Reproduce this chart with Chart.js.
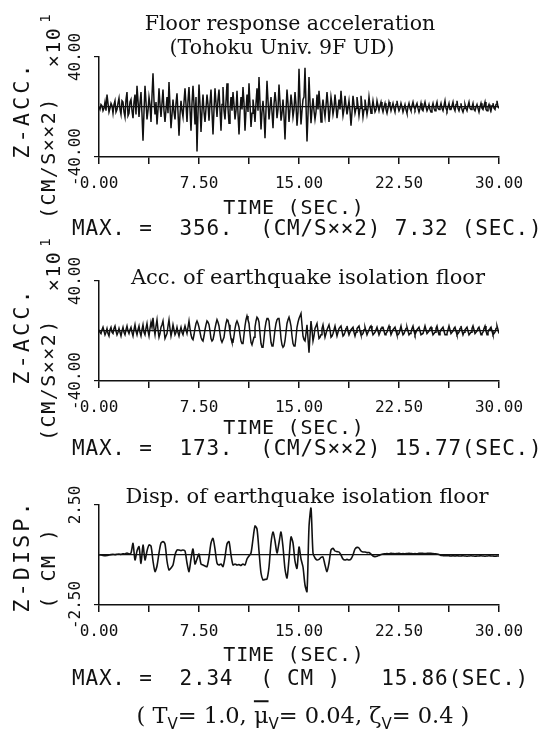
<!DOCTYPE html>
<html>
<head>
<meta charset="utf-8">
<script src="https://cdn.jsdelivr.net/npm/chart.js@4.4.1/dist/chart.umd.min.js"></script>
<style>
  body { margin: 0; background: #fff; width: 553px; height: 742px; position: relative; overflow: hidden; }
  canvas { position: absolute; left: 0; }
  .t { position: absolute; white-space: pre; color: #111; line-height: 1; }
  .serif { font-family: "DejaVu Serif", serif; font-size: 20.5px; transform: translate(-50%, -50%); }
  .serif.wide { font-size: 21px; }
  .mono { font-family: "DejaVu Sans Mono", monospace; }
  .rot { transform: translate(-50%, -50%) rotate(-90deg); }
  .big { font-size: 22px; letter-spacing: 3px; }
  .unit { font-size: 20px; letter-spacing: 1.5px; }
  .max { font-size: 21px; letter-spacing: 0.8px; transform: translateY(-50%); }
  .time { font-size: 20px; letter-spacing: 0.8px; transform: translate(-50%, -50%); }
  .sup { font-size: 14px; position: relative; top: -10px; margin-left: 4px; }
  .foot { font-family: "DejaVu Serif", serif; font-size: 22.5px; transform: translate(-50%, -50%); }
  .foot sub { font-family: "DejaVu Sans", sans-serif; font-size: 15px; }
  .ov { text-decoration: overline; }
</style>
</head>
<body>
<canvas id="c1" width="553" height="165" style="top:32px"></canvas>
<canvas id="c2" width="553" height="165" style="top:256px"></canvas>
<canvas id="c3" width="553" height="165" style="top:480px"></canvas>

<div class="t serif" style="left:290px; top:23px">Floor response acceleration</div>
<div class="t serif" style="left:282px; top:47px">(Tohoku Univ. 9F UD)</div>
<div class="t mono rot big" style="left:22px; top:110px">Z-ACC.</div>
<div class="t mono rot unit" style="left:48px; top:158px">(CM/S××2)</div>
<div class="t mono rot unit" style="left:53px; top:40px">×10<span class="sup">1</span></div>
<div class="t mono time" style="left:294px; top:207px">TIME (SEC.)</div>
<div class="t mono max" style="left:72px; top:228px">MAX. =  356.  (CM/S××2) 7.32 (SEC.)</div>

<div class="t serif wide" style="left:308px; top:277px">Acc. of earthquake isolation floor</div>
<div class="t mono rot big" style="left:22px; top:336px">Z-ACC.</div>
<div class="t mono rot unit" style="left:48px; top:380px">(CM/S××2)</div>
<div class="t mono rot unit" style="left:53px; top:264px">×10<span class="sup">1</span></div>
<div class="t mono time" style="left:294px; top:427px">TIME (SEC.)</div>
<div class="t mono max" style="left:72px; top:448px">MAX. =  173.  (CM/S××2) 15.77(SEC.)</div>

<div class="t serif wide" style="left:307px; top:496px">Disp. of earthquake isolation floor</div>
<div class="t mono rot big" style="left:22px; top:556px">Z-DISP.</div>
<div class="t mono rot unit" style="left:48px; top:568px">( CM )</div>
<div class="t mono time" style="left:294px; top:654px">TIME (SEC.)</div>
<div class="t mono max" style="left:72px; top:678px">MAX. =  2.34  ( CM )   15.86(SEC.)</div>

<div class="t foot" style="left:303px; top:718px">( T<sub>V</sub>= 1.0, <span class="ov">μ</span><sub>V</sub>= 0.04, ζ<sub>V</sub>= 0.4 )</div>

<script>
// accelerations read every 0.075 s, displacement every 0.15 s, 0 .. 30 s
const accStep = 0.075;
const dispStep = 0.15;

// floor response acceleration, x10 cm/s2
const floorAcc = [
  0, -2, 2, 1, -3, -1, 4, -3, 10, 3, -4, -1, 3, 1, -5, 2, 5, -4, -2, 3,
  7, -2, -6, 5, 4, -4, -8, 6, 12, -7, -5, 4, 6, -3, -9, 4, 10, -6, 17, 5,
  -8, 3, 12, -6, -27, -4, 17, 4, -10, -3, 8, 2, -12, 9, 27, 5, -6, 4, -14, -2,
  15, 2, -8, 3, 14, -3, -12, -2, 8, -5, 20, 1, -17, -6, 6, -4, -10, 3, 11, -4,
  -23, -6, 5, -3, -8, 4, 15, 2, -12, 5, 16, -2, -19, 3, 17, 2, -14, 8, -35.6, -5,
  18, 2, -20, -3, 10, -4, -12, -1, 10, 2, -11, 3, 14, -4, -22, -2, 15, 3, -8, 6,
  14, -2, -19, 2, 16, -3, -10, 4, 19, -1, -13, -2, 8, -3, 12, 2, -10, -3, 13, -5,
  -22, -4, 8, -2, 16, 3, -19, -3, 10, -4, 19, 2, -16, -5, 6, -2, -12, 3, 15, -3,
  24, 3, -18, -4, 5, -6, -25, -2, 21, 5, -10, -1, 8, -4, -17, 2, 12, 4, -9, -2,
  18, 4, -11, -5, 6, -7, -26, -3, 14, 3, -12, -2, 10, 2, -8, -2, 12, 2, -15, -4,
  30.5, 5, -14, -3, 6, 8, 31.4, 2, -27.6, -6, 24, 4, -13, -2, 7, -3, -10, -4, 10, -2,
  13, 1, -12, -2, 6, -2, -8, 1, 12, 2, -12, -3, 8, 2, -6, -1, 10, 1, -9, -2,
  6, -2, 13, 2, -7, -2, 9, 1, -6, -1, 5, -3, -15, -4, 9, 2, -5, -1, 8, 1,
  -7, -1, 9, 1, -8, -2, 6, 0, -6, -1, 8, 1, -5, -1, 5, 0, -4, -2, 5, 1,
  -3, 1, 4, -1, -4, 0, 3, -2, -5, -1, 4, 1, -3, 0, 3, -1, -4, 2, 5, 0,
  -3, -1, 3, 0, -4, -1, 2, -2, -5, 0, 3, -1, -3, 1, 4, 0, -2, 1, 3, -1,
  -4, -1, 3, -2, -3, 1, 4, 0, -3, -1, 2, -2, -4, 0, 3, -1, -3, 1, 4, -1,
  -2, 0, 3, -1, -3, 1, 5, -1, -3, 0, 3, -2, -2, 1, 4, -1, -3, 2, 5, -1,
  -3, 0, 3, -2, -4, -1, 2, -1, -3, 1, 4, -1, -2, 0, 3, -2, -3, 0, 2, -1,
  -4, 0, 3, -1, -2, 1, 4, -2, -3, 0, 2, -1, -3, 1, 3, -1, -2, 2, 5, 0,
  -1
];

// isolation floor acceleration, x10 cm/s2
const isoAcc = [
  1, -1, -2, 1, 3, 0, -3, -1, 2, -2, -4, 1, 3, -1, -2, 2, 4, 0, -3, -1,
  2, -1, -4, 0, 3, -1, -3, 1, 4, 0, -2, 1, 3, -1, -4, 1, 5, 0, -3, 1,
  4, -1, -4, 1, 5, -1, -3, 2, 6, 0, -4, 2, 7, 3, 10.5, 2, -3, 4, 9, 1,
  -5, -2, 3, 5, 8, 1, -6, -4, -2, 4, 9, 2, -4, 0, 5, 1, -3, -1, 3, -1,
  -4, 0, 3, -1, -3, 1, 4, 1, -2, 3, 8, 2, -3, -6, -7, -3, 2, 6, 8, 6,
  3, -1, -5, -7, -8, -4, 1, 5, 8, 7, 5, 0, -6, -8, -7, -3, 2, 6, 9, 7,
  4, -2, -7, -9, -9, -5, 1, 6, 9, 8, 5, -1, -6, -9, -9, -4, 2, 6, 8, 6,
  3, -3, -8, -10, -10, -3, 4, 9, 12, 9, 6, -2, -9, -11, -11, -5, 3, 8, 11, 10,
  7, -2, -10, -13, -13, -6, 2, 7, 10, 10, 8, -1, -9, -12, -12, -6, 1, 6, 9, 10,
  10, 3, -6, -11, -13, -12, -8, -1, 6, 9, 11, 8, 4, -4, -10, -12, -12, -5, 3, 7,
  10, 12, 14, 5, -4, -7, -8, -2, 5, -6, -17.3, -4, 8, 1, -8, -4, 2, 4, 6, 0,
  -6, -5, -3, 2, 5, 0, -5, -2, 1, 3, 5, 1, -5, -4, -2, 1, 4, 0, -4, -1,
  2, 3, 4, 0, -4, -3, -1, 2, 4, 0, -3, -1, 1, 2, 3, -1, -4, -1, 2, 3,
  4, 0, -3, -3, -2, 1, 3, 0, -3, -1, 1, 3, 4, 0, -3, -2, -1, 1, 3, 0,
  -3, -1, 2, 3, 3, 0, -3, -2, -1, 2, 4, 1, -3, -1, 1, 2, 3, 0, -3, -3,
  -2, 1, 4, 0, -3, -2, 0, 2, 3, 0, -3, -2, -1, 2, 4, 0, -3, -1, 1, 2,
  3, 0, -3, -3, -2, 1, 4, 1, -2, -1, 0, 2, 3, 0, -3, -2, -1, 2, 4, 0,
  -3, -1, 1, 2, 3, 0, -3, -3, -2, 1, 4, 1, -2, -1, 0, 2, 3, 0, -3, -2,
  -1, 2, 4, 0, -3, -1, 1, 2, 3, 0, -3, -2, -1, 2, 4, 1, -2, -1, 0, 2,
  3, 0, -3, -2, -1, 2, 4, 0, -3, -1, 1, 2, 3, 0, -3, -2, -1, 2, 4, 1,
  -2
];

// isolation floor displacement, cm
const isoDisp = [
  0, 0, -0.02, -0.03, -0.02, 0, 0.02, 0.03, 0.02, 0.04,
  0.05, 0.03, 0.06, 0.05, 0.1, 0.05, 0.1, 0.58, -0.25, 0.2,
  0.42, -0.42, 0.5, -0.25, 0.2, 0.5, 0.45, -0.3, -0.83, -0.55,
  0.1, 0.6, 0.67, 0.55, -0.3, -0.75, -0.65, -0.5, 0, 0.25,
  0.25, 0.22, 0.25, 0.2, -0.4, -0.83, -0.2, 0.3, -0.45, -0.2,
  0.05, -0.45, -0.5, -0.55, -0.58, -0.1, 0.6, 0.83, 0.3, -0.4,
  -0.5, -0.45, -0.58, -0.1, 0.55, 0.67, 0, -0.5, -0.45, -0.5,
  -0.48, -0.52, -0.45, -0.5, -0.2, -0.05, 0.1, 0.8, 1.45, 1.3,
  0.2, -0.9, -1.25, -1.22, -1.2, -0.6, 0.6, 1.15, 0.7, 0.1,
  0.6, 1.15, 0.4, -0.7, -1.15, -0.2, 0.9, 0.6, -0.3, -0.67,
  0.4, -0.2, -0.6, -1.5, -1.83, 1.4, 2.34, 0.1, -0.15, -0.25,
  -0.22, -0.12, -0.1, -0.5, -0.83, -0.4, 0.25, 0.33, 0.2, 0.17,
  0.15, 0, -0.2, -0.25, -0.22, -0.25, -0.2, 0, 0.3, 0.38,
  0.35, 0.2, 0.15, 0.15, 0.12, 0.12, 0.05, -0.05, -0.08, -0.06,
  -0.02, 0.02, 0.05, 0.06, 0.07, 0.06, 0.08, 0.07, 0.06, 0.07,
  0.08, 0.06, 0.07, 0.06, 0.07, 0.08, 0.07, 0.06, 0.07, 0.06,
  0.08, 0.09, 0.08, 0.07, 0.08, 0.09, 0.08, 0.07, 0.06, 0.05,
  0.03, -0.02, -0.03, -0.04, -0.03, -0.04, -0.05, -0.04, -0.05, -0.04,
  -0.05, -0.05, -0.04, -0.05, -0.06, -0.05, -0.04, -0.05, -0.06, -0.05,
  -0.05, -0.04, -0.05, -0.06, -0.05, -0.04, -0.05, -0.05, -0.06, -0.05,
  -0.05
];

const xTicks = [0, 3.75, 7.5, 11.25, 15, 18.75, 22.5, 26.25, 30];
const xLabels = ['0.00', '', '7.50', '', '15.00', '', '22.50', '', '30.00'];
const accTicks = [-40, 0, 40];
const dispTicks = [-2.5, 0, 2.5];

const ink = '#111';
const monoFont = { family: 'DejaVu Sans Mono', size: 16 };

function yLabel(v) {
  return v === 0 ? '' : v.toFixed(2);
}

// y tick labels, turned to read upward and centred on their ticks
const yTickLabels = {
  id: 'yTickLabels',
  afterDraw(chart) {
    const s = chart.scales.y;
    const ctx = chart.ctx;
    ctx.save();
    ctx.fillStyle = ink;
    ctx.font = '16px "DejaVu Sans Mono"';
    ctx.textAlign = 'center';
    ctx.textBaseline = 'middle';
    s.ticks.forEach(t => {
      const label = yLabel(t.value);
      if (!label) return;
      ctx.save();
      ctx.translate(s.right - 23, s.getPixelForValue(t.value));
      ctx.rotate(-Math.PI / 2);
      ctx.fillText(label, 0, 0);
      ctx.restore();
    });
    ctx.restore();
  }
};

function panel(id, values, step, yTicks, lineW, tension) {
  const pts = values.map((v, i) => ({ x: i * step, y: v }));
  const top = yTicks[yTicks.length - 1];

  new Chart(document.getElementById(id), {
    type: 'line',
    data: {
      datasets: [{
        data: pts,
        borderColor: ink,
        borderWidth: lineW,
        pointRadius: 0,
        tension: tension,
        fill: false
      }]
    },
    options: {
      responsive: false,
      animation: false,
      events: [],
      layout: { padding: { left: 69, right: 54, top: 25, bottom: 0 } },
      plugins: { legend: { display: false }, tooltip: { enabled: false } },
      scales: {
        x: {
          type: 'linear',
          min: 0,
          max: 30,
          afterBuildTicks: s => { s.ticks = xTicks.map(v => ({ value: v })); },
          afterFit: s => { s.height = 40; },
          grid: { drawOnChartArea: false, color: ink, tickLength: 7, lineWidth: 1.5 },
          border: { color: ink, width: 1.5 },
          ticks: {
            autoSkip: false,
            maxRotation: 0,
            padding: 10,
            color: ink,
            font: monoFont,
            callback: (v, i) => xLabels[i]
          }
        },
        y: {
          min: -top,
          max: top,
          afterBuildTicks: s => { s.ticks = yTicks.map(v => ({ value: v })); },
          afterFit: s => { s.width = 30; },
          grid: {
            color: c => (c.tick && c.tick.value === 0) ? ink : 'rgba(0,0,0,0)',
            tickColor: c => (c.tick && c.tick.value === 0) ? 'rgba(0,0,0,0)' : ink,
            tickLength: 5,
            lineWidth: 1.2
          },
          border: { color: ink, width: 1.5 },
          ticks: { display: false }
        }
      }
    },
    plugins: [yTickLabels]
  });
}

panel('c1', floorAcc, accStep, accTicks, 1.5, 0);
panel('c2', isoAcc, accStep, accTicks, 1.5, 0);
panel('c3', isoDisp, dispStep, dispTicks, 1.6, 0.25);
</script>
</body>
</html>
